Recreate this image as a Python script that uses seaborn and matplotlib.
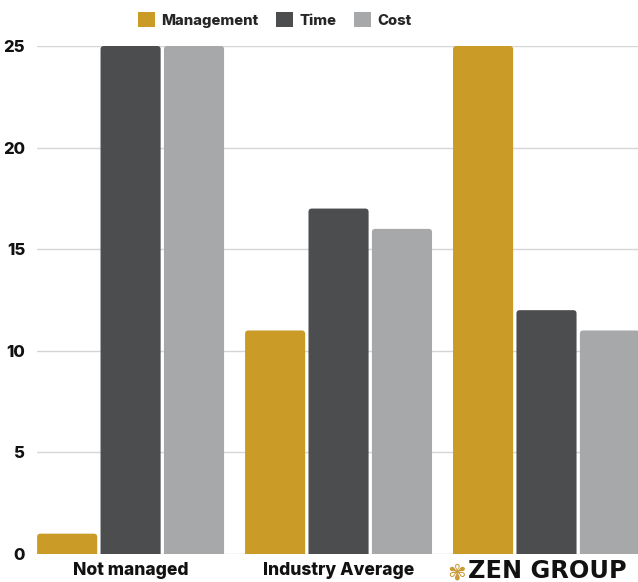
import matplotlib
matplotlib.use("Agg")
import matplotlib.pyplot as plt
import seaborn as sns
import pandas as pd
from matplotlib.patches import FancyBboxPatch, Patch

categories = ["Not managed", "Industry Average", "ZEN GROUP"]
series = ["Management", "Time", "Cost"]
management = [1, 11, 25]
time_vals = [25, 17, 12]
cost = [25, 16, 11]
yticks = [0, 5, 10, 15, 20, 25]
colors = ["#CB9B28", "#4C4D4F", "#A6A8AA"]

rows = []
for i, c in enumerate(categories):
    rows.append({"category": c, "series": "Management", "value": management[i]})
    rows.append({"category": c, "series": "Time", "value": time_vals[i]})
    rows.append({"category": c, "series": "Cost", "value": cost[i]})
df = pd.DataFrame(rows)

sns.set_theme(style="white")
plt.rcParams["font.family"] = ["Inter", "DejaVu Sans"]

fig = plt.figure(figsize=(6.38, 5.82), dpi=100)
ax = fig.add_axes([37 / 638, 1 - 554 / 582, 1 - 37 / 638, (554 - 46) / 582])

sns.barplot(data=df, x="category", y="value", hue="series", order=categories,
            hue_order=series, palette=colors, width=0.915, saturation=1,
            ax=ax, legend=False, edgecolor="none", linewidth=0)

# small gap between bars, rounded top corners (bottom corners clipped below 0)
for p in list(ax.patches):
    x, y = p.get_x(), p.get_y()
    w, h = p.get_width(), p.get_height()
    gap = 0.016
    fc = p.get_facecolor()
    p.remove()
    ax.add_patch(FancyBboxPatch((x + gap / 2, y - 1), w - gap, h + 1,
                                boxstyle="round,pad=0,rounding_size=0.016",
                                mutation_aspect=10.2,
                                facecolor=fc, edgecolor="none", zorder=3))

ax.set_xlim(-0.45, 2.44)
ax.set_ylim(0, 25)
ax.set_yticks(yticks)
ax.set_yticklabels([str(t) for t in yticks], fontsize=12, fontweight=800, color="#111111")
ax.tick_params(axis="y", length=0, pad=8.5)
ax.tick_params(axis="x", length=0, pad=6)
ax.set_xticks(range(len(categories)))
ax.set_xticklabels(categories[:2] + [""], fontsize=12.6, fontweight=800, color="#111111")
# third category label drawn as the logo-style wordmark
ax.text(468 / 638, 11 / 582, categories[2], transform=fig.transFigure,
        fontsize=17.3, fontweight="heavy", family=["DejaVu Sans"], color="#111111",
        ha="left", va="center")
ax.text(447 / 638, 3 / 582, "✾", transform=fig.transFigure, color="#C99A3A",
        fontsize=16, family=["DejaVu Sans"])
ax.set_xlabel("")
ax.set_ylabel("")
ax.grid(axis="y", color="#D6D6D6", linewidth=1, zorder=0)
ax.set_axisbelow(True)
for s in ax.spines.values():
    s.set_visible(False)

handles = [Patch(facecolor=c, edgecolor="none") for c in colors]
fig.legend(handles, series, loc="center", bbox_to_anchor=(275 / 638, 1 - 20 / 582),
           ncol=3, frameon=False, handlelength=1.1, handleheight=1.1,
           columnspacing=1.2, handletextpad=0.45,
           prop={"weight": 800, "size": 10.7})

fig.savefig("out.png", dpi=100)
